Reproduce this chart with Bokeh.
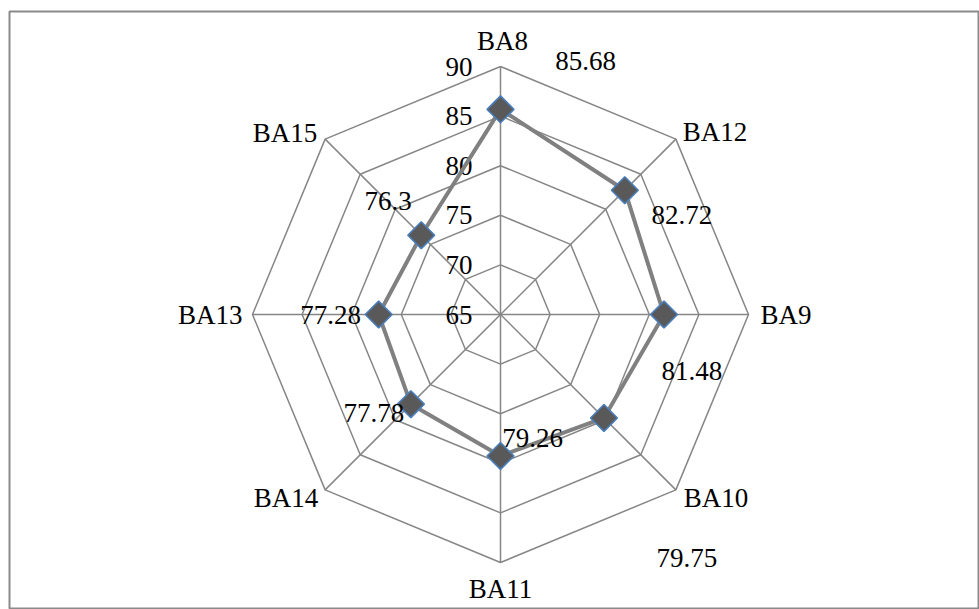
import numpy as np
from bokeh.plotting import figure
from bokeh.models import Range1d, ColumnDataSource
from bokeh.core.properties import value
from bokeh.embed import file_html
from bokeh.resources import INLINE

# ---- data ----
categories = ["BA8", "BA12", "BA9", "BA10", "BA11", "BA14", "BA13", "BA15"]
values = [85.68, 82.72, 81.48, 79.75, 79.26, 77.78, 77.28, 76.3]
value_labels = ["85.68", "82.72", "81.48", "79.75", "79.26", "77.78", "77.28", "76.3"]
ring_values = [65, 70, 75, 80, 85, 90]
tick_labels = ["65", "70", "75", "80", "85", "90"]

# ---- style (pixel offsets of the labels) ----
cat_align = ["center", "left", "left", "left", "center", "right", "right", "right"]
cat_dx = [2, 7, 12, 8, 0, -7, -10, -8]
cat_dy = [-26, -7, 0, 8, 26, 8, 0, -6]
val_dx = [85, 57, 28, 83, 32, -37, -48, -33]
val_dy = [-48, 25, 56, 140, -18, 9, 0, -34]

FONT = value("Liberation Serif")
FS = "27px"
GRID = "#868686"

r0 = ring_values[0]
rmax = ring_values[-1]
n = len(categories)
theta = np.arange(n) * 2 * np.pi / n

# range so that radius (rmax - r0) spans 248 px
k = (rmax - r0) / 248.0
p = figure(width=979, height=609, output_backend="svg", toolbar_location=None,
           x_range=Range1d(-491 * k, 479 * k), y_range=Range1d(-295 * k, 303 * k),
           x_axis_type=None, y_axis_type=None,
           min_border_left=9, min_border_top=11, min_border_right=0, min_border_bottom=0)
p.grid.visible = False
p.outline_line_color = "#8a8a8a"
p.outline_line_width = 2
p.background_fill_color = "white"
p.border_fill_color = "white"

# rings
xs, ys = [], []
for rv in ring_values[1:]:
    r = rv - r0
    xs.append(list(r * np.sin(np.append(theta, theta[0]))))
    ys.append(list(r * np.cos(np.append(theta, theta[0]))))
p.multi_line(xs, ys, line_color=GRID, line_width=1.5)

# spokes
R = rmax - r0
p.multi_line([[0, R * np.sin(t)] for t in theta], [[0, R * np.cos(t)] for t in theta],
             line_color=GRID, line_width=1.5)

# tick labels along the top spoke
p.text(x=[0] * len(ring_values), y=[rv - r0 for rv in ring_values], text=tick_labels,
       x_offset=-28, y_offset=0, text_align="right", text_baseline="middle",
       text_font=FONT, text_font_size=FS, text_color="black")

# category labels
vx = R * np.sin(theta)
vy = R * np.cos(theta)
cat_src = ColumnDataSource(dict(x=vx, y=vy, t=categories, a=cat_align, dx=cat_dx, dy=cat_dy))
p.text(x="x", y="y", text="t", text_align="a", x_offset="dx", y_offset="dy",
       text_baseline="middle", text_font=FONT, text_font_size=FS, text_color="black",
       source=cat_src)

# series
rv = np.array(values) - r0
sx = rv * np.sin(theta)
sy = rv * np.cos(theta)
p.line(list(sx) + [sx[0]], list(sy) + [sy[0]], line_color="#808080", line_width=4)
p.scatter(sx, sy, marker="square", angle=np.pi / 4, size=19,
          fill_color="#595959", line_color="#4A7EBB", line_width=1.6)

# value labels
val_src = ColumnDataSource(dict(x=sx, y=sy, t=value_labels, dx=val_dx, dy=val_dy))
p.text(x="x", y="y", text="t", x_offset="dx", y_offset="dy", text_align="center",
       text_baseline="middle", text_font=FONT, text_font_size=FS, text_color="black",
       source=val_src)

open("out.html", "w").write(file_html(p, INLINE))
